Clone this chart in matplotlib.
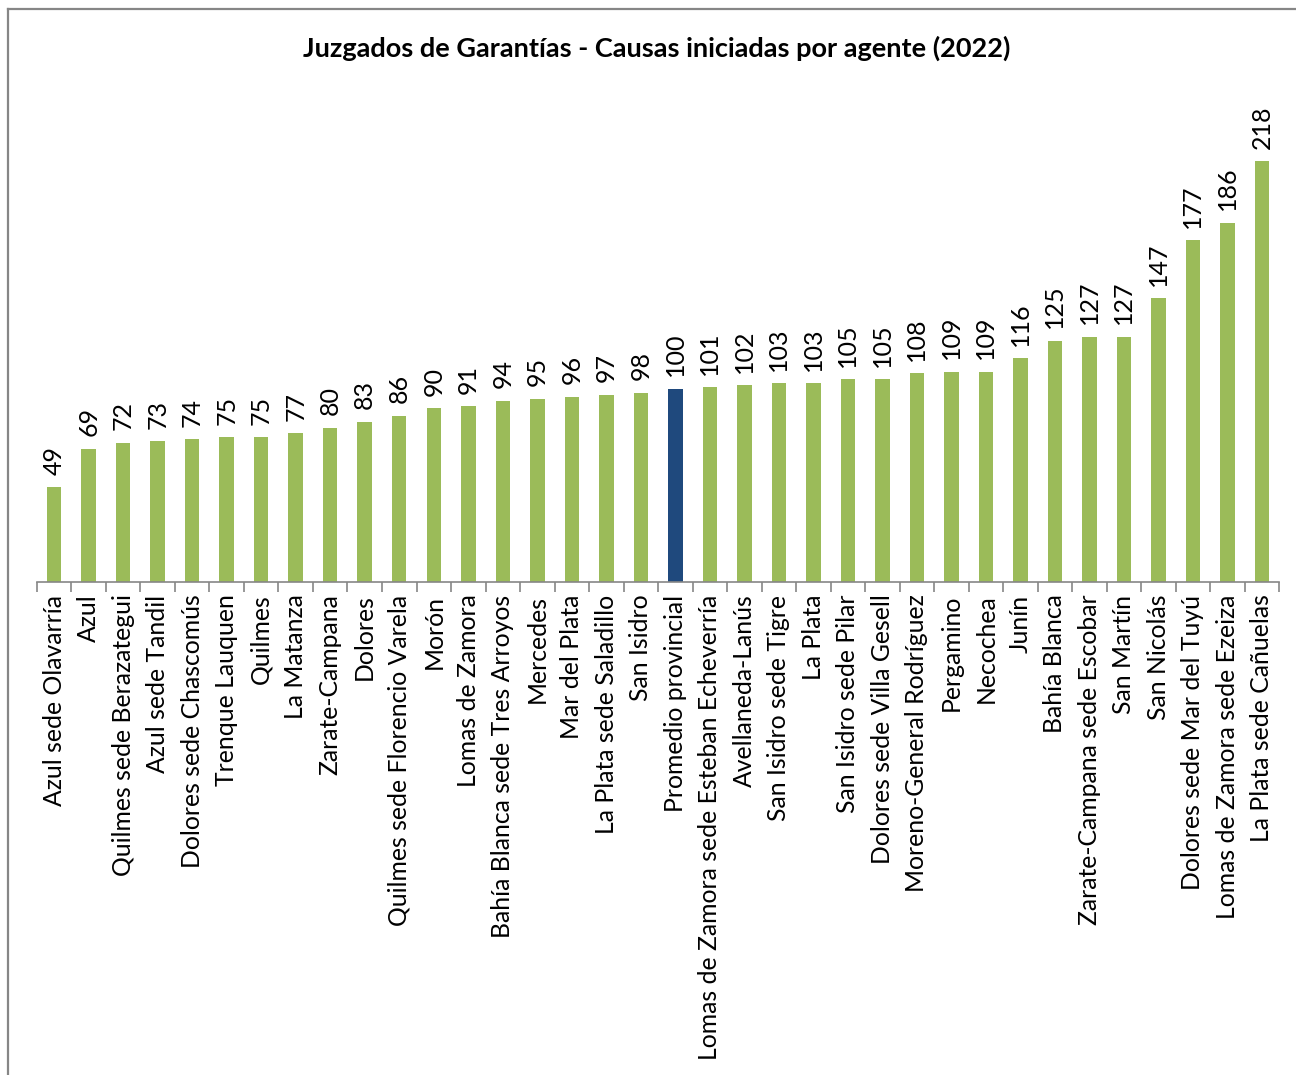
import matplotlib
matplotlib.use("Agg")
import matplotlib.pyplot as plt
from matplotlib.lines import Line2D
import numpy as np

categories = [
    "Azul sede Olavarría", "Azul", "Quilmes sede Berazategui", "Azul sede Tandil",
    "Dolores sede Chascomús", "Trenque Lauquen", "Quilmes", "La Matanza",
    "Zarate-Campana", "Dolores", "Quilmes sede Florencio Varela", "Morón",
    "Lomas de Zamora", "Bahía Blanca sede Tres Arroyos", "Mercedes", "Mar del Plata",
    "La Plata sede Saladillo", "San Isidro", "Promedio provincial",
    "Lomas de Zamora sede Esteban Echeverría", "Avellaneda-Lanús", "San Isidro sede Tigre",
    "La Plata", "San Isidro sede Pilar", "Dolores sede Villa Gesell",
    "Moreno-General Rodríguez", "Pergamino", "Necochea", "Junín", "Bahía Blanca",
    "Zarate-Campana sede Escobar", "San Martín", "San Nicolás",
    "Dolores sede Mar del Tuyú", "Lomas de Zamora sede Ezeiza", "La Plata sede Cañuelas",
]
values = [49, 69, 72, 73, 74, 75, 75, 77, 80, 83, 86, 90, 91, 94, 95, 96, 97, 98, 100,
          101, 102, 103, 103, 105, 105, 108, 109, 109, 116, 125, 127, 127, 147, 177, 186, 218]
highlight = "Promedio provincial"

GREEN = "#9BBB59"
NAVY = "#1F497D"
FONT = ["Lato", "DejaVu Sans"]
plt.rcParams["font.family"] = FONT

fig = plt.figure(figsize=(12.96, 10.75), dpi=100)
ax = fig.add_axes([0.0285, 0.4586, 0.9585, 0.449])

x = np.arange(len(categories))
colors = [NAVY if c == highlight else GREEN for c in categories]
bars = ax.bar(x, values, width=0.42, color=colors, zorder=2)

for xi, v in zip(x, values):
    ax.annotate(str(v), (xi, v), xytext=(0, 9), textcoords="offset points",
                rotation=90, ha="center", va="bottom", fontsize=18, color="black")

ax.set_xlim(-0.5, len(categories) - 0.5)
ax.set_ylim(0, 250)
ax.set_yticks([])
for s in ["top", "right", "left"]:
    ax.spines[s].set_visible(False)
ax.spines["bottom"].set_color("#868686")
ax.spines["bottom"].set_linewidth(1.2)

ax.set_xticks(x)
ax.set_xticklabels(categories, rotation=90, fontsize=17.8, va="top", ha="center")
ax.tick_params(axis="x", which="major", length=0, pad=9)
ax.set_xticks(np.arange(-0.5, len(categories), 1.0), minor=True)
ax.tick_params(axis="x", which="minor", length=7, width=1.2, color="#868686")

fig.text(0.507, 0.955, "Juzgados de Garantías - Causas iniciadas por agente (2022)",
         ha="center", va="center", fontsize=19.5, fontweight="bold")

# outer frame (left and top edges visible)
fig.add_artist(Line2D([8 / 1296, 8 / 1296], [0, 1 - 9 / 1075], transform=fig.transFigure,
                      color="#868686", lw=1.6))
fig.add_artist(Line2D([8 / 1296, 1], [1 - 9 / 1075, 1 - 9 / 1075], transform=fig.transFigure,
                      color="#868686", lw=1.6))

fig.savefig("out.png", dpi=100, facecolor="white")
